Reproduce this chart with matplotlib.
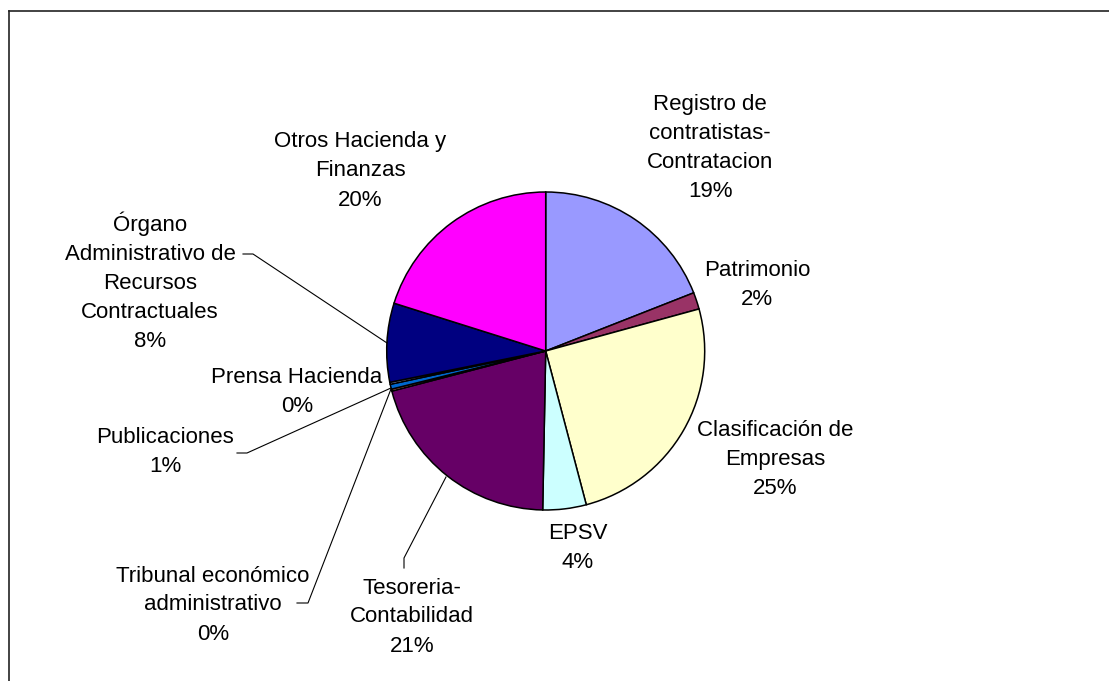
import matplotlib.pyplot as plt

W, H = 1109, 681

categorias = ["Registro de\ncontratistas-\nContratacion", "Patrimonio",
              "Clasificación de\nEmpresas", "EPSV", "Tesoreria-\nContabilidad",
              "Tribunal económico\nadministrativo", "Publicaciones",
              "Prensa Hacienda", "Órgano\nAdministrativo de\nRecursos\nContractuales",
              "Otros Hacienda y\nFinanzas"]
valores = [19.0, 1.7, 25.1, 4.4, 20.6, 0.2, 0.5, 0.2, 8.0, 20.1]
colores = ["#9999FF", "#993366", "#FFFFCC", "#CCFFFF", "#660066",
           "#FF8080", "#0066CC", "#CCCCFF", "#000080", "#FF00FF"]

# posiciones de las etiquetas (pixeles de la imagen)
pos_etiquetas = [(710, 148), (757, 285), (775, 459), (578, 548), (412, 617),
                 (213, 605), (165, 452), (297, 392), (150, 282), (360, 171)]

# lineas guia (pixeles de la imagen)
guias = {
    "Órgano": [(243, 254), (253, 254), (387, 343)],
    "Publicaciones": [(237, 453), (247, 453), (391, 388)],
    "Tribunal": [(297, 603), (308, 603), (391, 389)],
    "Tesoreria": [(404, 568), (404, 558), (446, 477)],
}

plt.rcParams['font.family'] = ['Liberation Sans', 'DejaVu Sans']

fig = plt.figure(figsize=(W / 100, H / 100), dpi=100)
ax = fig.add_axes([0, 0, 1, 1])

total = sum(valores)
ax.pie(valores, colors=colores, startangle=90, counterclock=False,
       center=(545.7, H - 351), radius=159, frame=True,
       wedgeprops=dict(edgecolor='black', linewidth=1.1))
ax.set_xlim(0, W)
ax.set_ylim(0, H)
ax.axis('off')
ax.set_aspect('equal')

for cat, v, (x, y) in zip(categorias, valores, pos_etiquetas):
    pct = round(v / total * 100)
    ax.text(x, H - y, f"{cat}\n{pct}%", ha='center', va='center',
            fontsize=16, linespacing=1.5, color='black')

for pts in guias.values():
    ax.plot([p[0] for p in pts], [H - p[1] for p in pts], color='black', lw=0.8)

# marco del area del grafico
ax.plot([8.5, W], [H - 10.5, H - 10.5], color='#222222', lw=1.2)
ax.plot([8.5, 8.5], [0, H - 10.5], color='#222222', lw=1.2)

fig.savefig("out.png", dpi=100)
